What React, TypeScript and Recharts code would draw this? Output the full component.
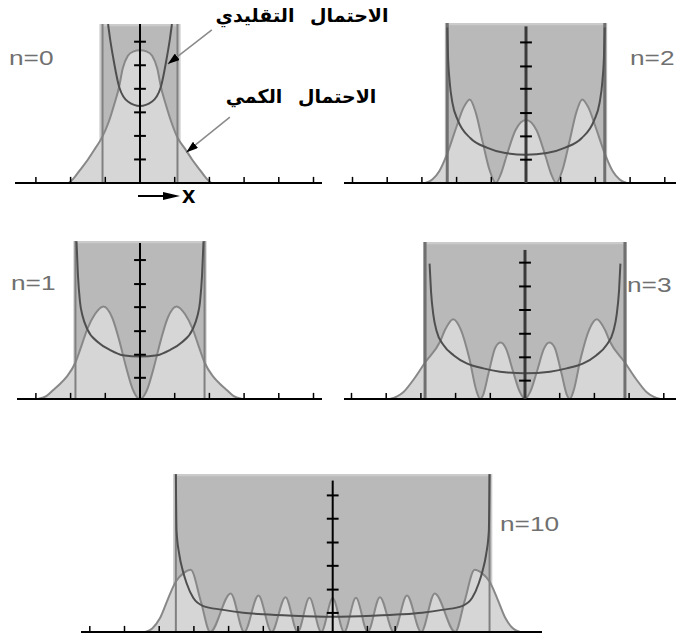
import { ComposedChart, Area, Line, XAxis, YAxis, ReferenceArea, ReferenceLine } from 'recharts';

type Pt = [number, number];

// x in horizontal tick units, y in vertical tick units
const quantumN0: Pt[] = [[-2.05, 0], [-1.9, 0.22], [-1.73, 0.55], [-1.5, 1.0], [-1.3, 1.45], [-1.09, 1.95], [-0.9, 2.6], [-0.75, 3.3], [-0.6, 4.1], [-0.5, 4.85], [-0.35, 5.4], [-0.2, 5.58], [0, 5.64], [0.2, 5.58], [0.35, 5.4], [0.5, 4.85], [0.6, 4.1], [0.75, 3.3], [0.9, 2.6], [1.09, 1.9], [1.3, 1.45], [1.5, 1.0], [1.73, 0.55], [1.9, 0.22], [2.05, 0]];
const classicN0: Pt[] = [[-0.92, 6.75], [-0.86, 6.1], [-0.77, 5.3], [-0.6, 4.08], [-0.34, 3.45], [0, 3.27], [0.34, 3.45], [0.6, 4.08], [0.77, 5.3], [0.86, 6.1], [0.92, 6.75]];

const quantumN1: Pt[] = [[-2.95, 0], [-2.7, 0.12], [-2.5, 0.38], [-2.3, 0.65], [-2.11, 0.95], [-1.86, 1.55], [-1.7, 2.2], [-1.52, 2.97], [-1.3, 3.6], [-1.05, 3.93], [-0.8, 3.45], [-0.6, 2.5], [-0.4, 1.35], [-0.2, 0.38], [0, 0], [0.2, 0.38], [0.4, 1.35], [0.6, 2.5], [0.8, 3.45], [1.05, 3.93], [1.3, 3.6], [1.52, 2.97], [1.7, 2.2], [1.86, 1.55], [2.11, 0.95], [2.3, 0.65], [2.5, 0.38], [2.7, 0.12], [2.95, 0]];
const classicN1: Pt[] = [[-1.83, 6.7], [-1.79, 5.3], [-1.73, 4.13], [-1.65, 3.5], [-1.52, 2.97], [-1.2, 2.4], [-0.86, 2.08], [-0.5, 1.86], [0, 1.8], [0.5, 1.86], [0.86, 2.08], [1.2, 2.4], [1.52, 2.97], [1.65, 3.5], [1.73, 4.13], [1.79, 5.3], [1.83, 6.7]];

const quantumN2: Pt[] = [[-2.9, 0], [-2.7, 0.15], [-2.5, 0.5], [-2.27, 1.25], [-2.0, 2.4], [-1.8, 3.2], [-1.62, 3.55], [-1.45, 3.0], [-1.25, 1.75], [-1.05, 0.55], [-0.87, 0], [-0.72, 0.4], [-0.55, 1.2], [-0.3, 2.25], [0, 2.67], [0.3, 2.25], [0.55, 1.2], [0.72, 0.4], [0.87, 0], [1.05, 0.55], [1.25, 1.75], [1.45, 3.0], [1.62, 3.55], [1.8, 3.2], [2.0, 2.4], [2.27, 1.25], [2.5, 0.5], [2.7, 0.15], [2.9, 0]];
const classicN2: Pt[] = [[-2.27, 6.6], [-2.25, 5.5], [-2.2, 4.3], [-2.12, 3.4], [-1.96, 2.65], [-1.6, 1.9], [-1.13, 1.5], [-0.6, 1.27], [0, 1.2], [0.6, 1.27], [1.13, 1.5], [1.6, 1.9], [1.96, 2.65], [2.12, 3.4], [2.2, 4.3], [2.25, 5.5], [2.27, 6.6]];

const quantumN3: Pt[] = [[-3.9, 0], [-3.7, 0.1], [-3.5, 0.3], [-3.2, 0.85], [-2.88, 1.55], [-2.45, 2.43], [-2.3, 2.95], [-2.07, 3.39], [-1.85, 2.95], [-1.6, 1.7], [-1.4, 0.35], [-1.29, 0], [-1.2, 0.2], [-1.05, 1.1], [-0.85, 2.2], [-0.7, 2.4], [-0.55, 2.15], [-0.35, 1.2], [-0.15, 0.3], [0, 0], [0.15, 0.3], [0.35, 1.2], [0.55, 2.15], [0.7, 2.4], [0.85, 2.2], [1.05, 1.1], [1.2, 0.2], [1.29, 0], [1.4, 0.35], [1.6, 1.7], [1.85, 2.95], [2.07, 3.39], [2.3, 2.95], [2.45, 2.43], [2.88, 1.55], [3.2, 0.85], [3.5, 0.3], [3.7, 0.1], [3.9, 0]];
const classicN3: Pt[] = [[-2.75, 5.75], [-2.71, 4.6], [-2.64, 3.56], [-2.55, 2.9], [-2.35, 2.29], [-2.05, 1.85], [-1.68, 1.51], [-1.2, 1.3], [-0.72, 1.16], [0, 1.09], [0.72, 1.16], [1.2, 1.3], [1.68, 1.51], [2.05, 1.85], [2.35, 2.29], [2.55, 2.9], [2.64, 3.56], [2.71, 4.6], [2.75, 5.75]];

const quantumN10: Pt[] = [[-5.4, 0], [-5.2, 0.15], [-4.98, 0.58], [-4.74, 1.43], [-4.52, 2.14], [-4.3, 2.5], [-4.09, 2.64], [-3.8, 1.3], [-3.53, 0], [-2.94, 1.64], [-2.55, 0], [-2.14, 1.55], [-1.76, 0], [-1.36, 1.48], [-1.01, 0], [-0.67, 1.45], [-0.33, 0], [0, 1.43], [0.33, 0], [0.67, 1.45], [1.01, 0], [1.36, 1.48], [1.76, 0], [2.14, 1.55], [2.55, 0], [2.94, 1.64], [3.53, 0], [3.8, 1.3], [4.09, 2.64], [4.3, 2.5], [4.52, 2.14], [4.74, 1.43], [4.98, 0.58], [5.2, 0.15], [5.4, 0]];
const classicN10: Pt[] = [[-4.52, 6.7], [-4.5, 4.3], [-4.42, 3.28], [-4.32, 2.6], [-4.21, 2.07], [-4.02, 1.45], [-3.73, 1.1], [-3.2, 0.95], [-2.58, 0.82], [-2.0, 0.75], [-1.14, 0.69], [0, 0.65], [1.14, 0.69], [2.0, 0.75], [2.58, 0.82], [3.2, 0.95], [3.73, 1.1], [4.02, 1.45], [4.21, 2.07], [4.32, 2.6], [4.42, 3.28], [4.5, 4.3], [4.52, 6.7]];

// turning points (edge line, outer rim of the shaded box)
const boxN0 = [1.08, 1.17];
const boxN1 = [1.86, 1.92];
const boxN2 = [2.27, 2.34];
const boxN3 = [2.88, 2.94];
const boxN10 = [4.52, 4.6];

const xTicksLeft = [-3, -2, -1, 1, 2, 3, 4, 5];
const xTicksRight = [-5, -4, -3, -2, -1, 1, 2, 3, 4];
const xTicksBottom = [-7, -6, -5, -4, -3, -2, -1, 1, 1.8];

const yTicksN0 = [1, 2, 3, 4, 5, 6];
const yTicksN1 = [0.9, 1.88, 2.88, 3.9, 4.88, 5.9];
const yTicksN2 = [0.99, 1.98, 2.97, 4, 4.95, 5.97];
const yTicksN3 = [0.78, 1.77, 2.77, 3.78, 4.78, 5.79];
const yTicksN10 = [0.81, 1.8, 2.81, 3.8, 4.81, 5.8];

// annotation pointers in the n=0 panel: [from, to]
const pointerClassic: Pt[] = [[2.07, 6.5], [0.8, 5.05]];
const pointerQuantum: Pt[] = [[2.59, 2.8], [1.33, 1.3]];

const UX = 34.7;
const UY = 23.55;

const toRows = (pts: Pt[]) => pts.map(([x, y]) => ({ x, y }));

function Panel(props: any) {
  const { left, right, top, bottom, center, quantum, classical, box, axisTop, yTicks, xTicks, heavy, children } = props;
  const m = 4;
  const w = right - left;
  const h = bottom - top;
  const xDomain = [(left - center) / UX, (right - center) / UX];
  const yTop = h / UY;
  const axisColor = heavy ? '#3a3a3a' : '#000';
  return (
    <div style={{ position: 'absolute', left: left - m, top: top - m }}>
      <ComposedChart width={w + 2 * m} height={h + 2 * m} margin={{ top: m, right: m, bottom: m, left: m }}>
        <XAxis type="number" dataKey="x" domain={xDomain} allowDataOverflow hide />
        <YAxis type="number" domain={[0, yTop]} allowDataOverflow hide />
        <ReferenceArea x1={-box[1]} x2={box[1]} y1={0} y2={yTop} fill="#cbcbcb" fillOpacity={1} stroke="none" />
        <ReferenceArea x1={-box[0]} x2={box[0]} y1={0} y2={yTop - 0.1} fill="#b9b9b9" fillOpacity={1} stroke="none" />
        <Area data={toRows(quantum)} dataKey="y" type="monotone" fill="#d6d6d6" fillOpacity={1}
          stroke="#888" strokeWidth={2} dot={false} activeDot={false} isAnimationActive={false} />
        <ReferenceLine x={-box[0]} stroke={heavy ? '#707070' : '#808080'} strokeWidth={heavy ? 3 : 2} />
        <ReferenceLine x={box[0]} stroke={heavy ? '#707070' : '#808080'} strokeWidth={heavy ? 3 : 2} />
        <Line data={toRows(classical)} dataKey="y" type="monotone" stroke="#4f4f4f" strokeWidth={2}
          dot={false} activeDot={false} isAnimationActive={false} />
        {/* x axis: baseline with upward ticks */}
        <ReferenceLine y={0} stroke="#000" strokeWidth={2} />
        {xTicks.map((t: number) => (
          <ReferenceLine key={'x' + t} segment={[{ x: t, y: 0 }, { x: t, y: 0.26 }]} stroke="#000" strokeWidth={1.5} />
        ))}
        <ReferenceLine segment={[{ x: 0, y: 0 }, { x: 0, y: axisTop }]} stroke={axisColor} strokeWidth={heavy ? 3 : 2} />
        {yTicks.map((t: number) => (
          <ReferenceLine key={'y' + t} segment={[{ x: -0.17, y: t }, { x: 0.17, y: t }]} stroke="#000" strokeWidth={2} />
        ))}
        {children}
      </ComposedChart>
    </div>
  );
}

const nLabel = (text: string, left: number, top: number) => (
  <div style={{
    position: 'absolute', left, top, fontFamily: '"Liberation Sans", Arial, sans-serif', fontSize: 21,
    lineHeight: '21px', color: '#707070', transform: 'scaleX(1.25)', transformOrigin: 'left top', whiteSpace: 'nowrap',
  }}>{text}</div>
);

const arLabel = (text: string, left: number, top: number, width: number) => (
  <div dir="rtl" style={{
    position: 'absolute', left, top, width, textAlign: 'center', fontFamily: '"DejaVu Sans", sans-serif',
    fontWeight: 'bold', fontSize: 19, lineHeight: '24px', color: '#000', whiteSpace: 'nowrap', wordSpacing: 9,
  }}>{text}</div>
);

export default function App() {
  return (
    <div style={{ position: 'absolute', left: 0, top: 0, width: 676, height: 636, overflow: 'hidden', background: '#fff' }}>
      <Panel left={15} right={322} top={24} bottom={183} center={140} quantum={quantumN0} classical={classicN0}
        box={boxN0} axisTop={6.75} yTicks={yTicksN0} xTicks={xTicksLeft}>
        <defs>
          <marker id="tip" viewBox="0 0 12 8" refX="12" refY="4" markerWidth="12" markerHeight="8"
            markerUnits="userSpaceOnUse" orient="auto">
            <path d="M0,0 L12,4 L0,8 z" fill="#000" />
          </marker>
        </defs>
        <ReferenceLine segment={pointerClassic.map(([x, y]) => ({ x, y }))} stroke="#8a8a8a" strokeWidth={1.5} markerEnd="url(#tip)" />
        <ReferenceLine segment={pointerQuantum.map(([x, y]) => ({ x, y }))} stroke="#8a8a8a" strokeWidth={1.5} markerEnd="url(#tip)" />
      </Panel>
      <Panel left={344} right={676} top={23} bottom={183} center={526} quantum={quantumN2} classical={classicN2}
        box={boxN2} axisTop={6.65} yTicks={yTicksN2} xTicks={xTicksRight} heavy />
      <Panel left={17} right={322} top={241} bottom={399} center={140} quantum={quantumN1} classical={classicN1}
        box={boxN1} axisTop={6.62} yTicks={yTicksN1} xTicks={xTicksLeft} />
      <Panel left={344} right={676} top={242} bottom={399} center={525} quantum={quantumN3} classical={classicN3}
        box={boxN3} axisTop={6.33} yTicks={yTicksN3} xTicks={xTicksRight} heavy />
      <Panel left={81} right={542} top={474} bottom={632} center={332.7} quantum={quantumN10} classical={classicN10}
        box={boxN10} axisTop={6.43} yTicks={yTicksN10} xTicks={xTicksBottom} />

      {nLabel('n=0', 9, 47)}
      {nLabel('n=2', 630, 47)}
      {nLabel('n=1', 11, 272)}
      {nLabel('n=3', 627, 274)}
      {nLabel('n=10', 500, 513)}

      {arLabel('الاحتمال التقليدي', 207, 3, 190)}
      {arLabel('الاحتمال الكمي', 216, 84, 170)}

      <svg style={{ position: 'absolute', left: 130, top: 184 }} width={52} height={26}>
        <line x1={8} y1={12} x2={38} y2={12} stroke="#000" strokeWidth={2} />
        <path d="M33,8 L50,12 L33,16 z" fill="#000" />
      </svg>
      <div style={{
        position: 'absolute', left: 182, top: 182, fontFamily: '"Liberation Sans", Arial, sans-serif',
        fontWeight: 'bold', fontSize: 24, lineHeight: '26px', color: '#000',
      }}>x</div>
    </div>
  );
}
